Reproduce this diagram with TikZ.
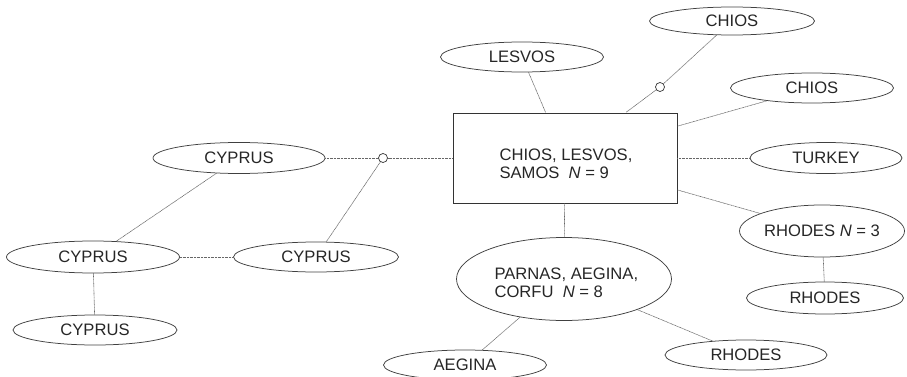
\documentclass[tikz,border=0pt]{standalone}
\usepackage{fontspec}
\setmainfont{Liberation Sans}
\usetikzlibrary{shapes.geometric}
\begin{document}
\begin{tikzpicture}[x=1pt,y=-1pt,
  every node/.style={font=\fontsize{16.6}{18}\selectfont, text=black!85},
  oval/.style={ellipse, draw=black!75, line width=0.75pt, inner sep=0pt, minimum width=#1, minimum height=30pt},
  oval/.default=163pt,
  boxnode/.style={rectangle, draw=black!80, line width=0.95pt, minimum width=224pt, minimum height=90pt, inner sep=0pt},
  junction/.style={circle, draw=black!80, line width=0.7pt, fill=white, minimum size=9pt, inner sep=0pt},
  link/.style={draw=black!60, line width=0.6pt, dash pattern=on 0.9pt off 0.5pt}
]
\useasboundingbox (0,0) rectangle (907,377);
% nodes
\node[boxnode] (box) at (565,158) {};
\node[anchor=west, align=left] (boxtxt) at (496,164) {CHIOS, LESVOS,\\SAMOS\ \ \textit{N} = 9};
\node[oval] (lesvos) at (522,57) {LESVOS};
\node[oval=165pt, minimum height=28pt] (chiostop) at (732,21) {CHIOS};
\node[junction] (j1) at (660,87) {};
\node[oval] (chiosr) at (812,88) {CHIOS};
\node[oval=152pt, minimum height=31pt] (turkey) at (826,158) {TURKEY};
\node[oval=165pt, minimum height=52pt] (rhodes3) at (822,231) {RHODES \textit{N} = 3};
\node[oval=157pt, minimum height=32pt] (rhodesr) at (825,298) {RHODES};
\node[ellipse, draw=black!75, line width=0.75pt, inner sep=0pt, minimum width=215pt, minimum height=83pt] (parnas) at (564,279) {};
\node[anchor=west, align=left] (parnastxt) at (491,283) {PARNAS, AEGINA,\\CORFU\ \ \textit{N} = 8};
\node[oval] (aegina) at (465,365) {AEGINA};
\node[oval=162pt] (rhodesb) at (746,355) {RHODES};
\node[junction] (j2) at (383,158) {};
\node[oval=172pt, minimum height=31pt] (cyp1) at (239,158) {CYPRUS};
\node[oval=173pt, minimum height=32pt] (cyp2) at (93,257) {CYPRUS};
\node[oval=165pt] (cyp3) at (316,257) {CYPRUS};
\node[oval=164pt] (cyp4) at (95,330) {CYPRUS};
% connectors
\draw[link] (lesvos) -- (box);
\draw[link] (chiostop) -- (j1) -- (box);
\draw[link] (chiosr) -- (box);
\draw[link] (turkey) -- (box);
\draw[link] (rhodes3) -- (box);
\draw[link] (rhodes3) -- (rhodesr);
\draw[link] (box) -- (parnas);
\draw[link] (parnas) -- (aegina);
\draw[link] (parnas) -- (rhodesb);
\draw[link] (box) -- (j2) -- (cyp1);
\draw[link] (j2) -- (cyp3);
\draw[link] (cyp1) -- (cyp2);
\draw[link] (cyp2) -- (cyp3);
\draw[link] (cyp2) -- (cyp4);
\end{tikzpicture}
\end{document}
